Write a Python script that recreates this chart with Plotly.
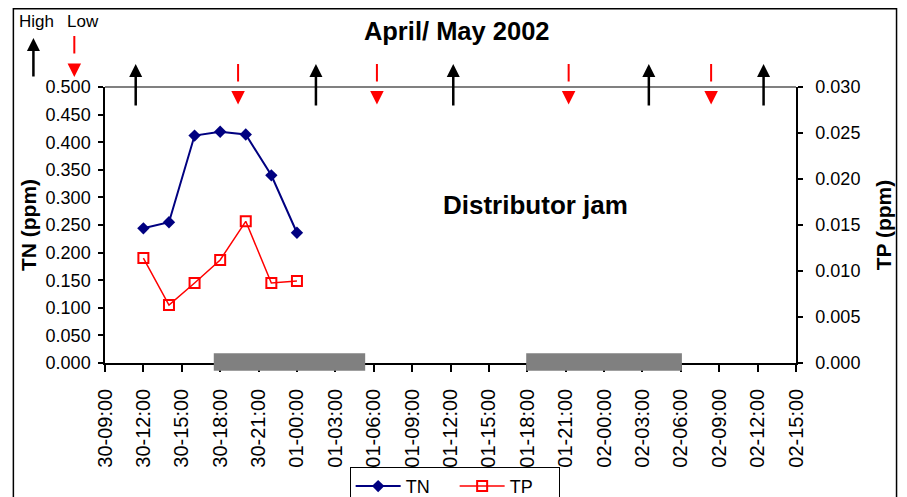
import plotly.graph_objects as go

# ---------------- data ----------------
sample_times = ["2002-04-30 12:00", "2002-04-30 14:00", "2002-04-30 16:00",
                "2002-04-30 18:00", "2002-04-30 20:00", "2002-04-30 22:00",
                "2002-05-01 00:00"]
tn_values = [0.244, 0.255, 0.412, 0.419, 0.414, 0.340, 0.236]
tp_values = [0.0114, 0.0063, 0.0087, 0.0112, 0.0154, 0.0087, 0.0089]

high_tide_times = ["2002-04-30 11:24", "2002-05-01 01:29", "2002-05-01 12:13",
                   "2002-05-02 03:30", "2002-05-02 12:28"]
low_tide_times = ["2002-04-30 19:24", "2002-05-01 06:15", "2002-05-01 21:14",
                  "2002-05-02 08:22"]

night_starts = ["2002-04-30 17:30", "2002-05-01 17:55"]
night_ends = ["2002-05-01 05:20", "2002-05-02 06:05"]

x_range = ["2002-04-30 09:00", "2002-05-02 15:00"]
tn_range = [0, 0.5]
tp_range = [0, 0.03]

title_text = "April/ May 2002"
note_text = "Distributor jam"

# ---------------- figure ----------------
FONT = "Liberation Sans, Arial, sans-serif"

fig = go.Figure()
fig.add_trace(go.Scatter(
    x=sample_times, y=tn_values, name="TN", mode="lines+markers",
    line=dict(color="#000080", width=2),
    marker=dict(symbol="diamond", size=9.5, color="#000080"),
    yaxis="y"))
fig.add_trace(go.Scatter(
    x=sample_times, y=tp_values, name="TP", mode="lines+markers",
    line=dict(color="#FF0000", width=1.5),
    marker=dict(symbol="square-open", size=10, color="#FF0000",
                line=dict(width=2, color="#FF0000")),
    yaxis="y2"))

shapes = []
# night bars straddling the x axis
for s, e in zip(night_starts, night_ends):
    shapes.append(dict(type="rect", xref="x", yref="paper", x0=s, x1=e,
                       y0=-0.028, y1=0.035, fillcolor="#808080",
                       line=dict(width=0), layer="above"))
# plot area top border
shapes.append(dict(type="line", xref="paper", yref="paper", x0=0, x1=1,
                   y0=1, y1=1, line=dict(color="#808080", width=2)))
# outer chart border
shapes.append(dict(type="rect", xref="paper", yref="paper", x0=-0.1326,
                   x1=1.1455, y0=-0.8, y1=1.2835,
                   line=dict(color="#000000", width=1.5)))

annotations = []
# high tide arrows (black, up)
for t in high_tide_times:
    annotations.append(dict(x=t, xref="x", y=1.0833, yref="paper", text="",
                            showarrow=True, ax=0, ay=43, arrowhead=2,
                            arrowwidth=2.5, arrowsize=1.04,
                            arrowcolor="#000000", standoff=0))
# low tide arrows (red, down, shaft separated from head)
for t in low_tide_times:
    annotations.append(dict(x=t, xref="x", y=1.0833, yref="paper", text="",
                            showarrow=True, ax=0, ay=19, arrowhead=0,
                            arrowwidth=2, arrowcolor="#FF0000", standoff=0))
    annotations.append(dict(x=t, xref="x", y=0.9366, yref="paper", text="",
                            showarrow=True, ax=0, ay=-13.5, arrowhead=2,
                            arrowwidth=2, arrowsize=1.35,
                            arrowcolor="#FF0000", standoff=0))

# High / Low key
annotations.append(dict(x=-0.0998, y=1.239, xref="paper", yref="paper",
                        text="High", showarrow=False,
                        font=dict(family=FONT, size=17, color="black"),
                        xanchor="center", yanchor="middle"))
annotations.append(dict(x=-0.0318, y=1.239, xref="paper", yref="paper",
                        text="Low", showarrow=False,
                        font=dict(family=FONT, size=17, color="black"),
                        xanchor="center", yanchor="middle"))
annotations.append(dict(x=-0.1036, y=1.1775, xref="paper", yref="paper",
                        text="", showarrow=True, ax=0, ay=40, arrowhead=2,
                        arrowwidth=2.5, arrowsize=1.04, arrowcolor="#000000",
                        standoff=0))
annotations.append(dict(x=-0.0444, y=1.1848, xref="paper", yref="paper",
                        text="", showarrow=True, ax=0, ay=19, arrowhead=0,
                        arrowwidth=2, arrowcolor="#FF0000", standoff=0))
annotations.append(dict(x=-0.0444, y=1.0362, xref="paper", yref="paper",
                        text="", showarrow=True, ax=0, ay=-13.5, arrowhead=2,
                        arrowwidth=2, arrowsize=1.35, arrowcolor="#FF0000",
                        standoff=0))
# note
annotations.append(dict(x=0.6233, y=0.5725, xref="paper", yref="paper",
                        text="<b>" + note_text + "</b>", showarrow=False,
                        font=dict(family=FONT, size=26, color="black"),
                        xanchor="center", yanchor="middle"))

fig.update_layout(
    width=907, height=520,
    margin=dict(l=97, r=118.5, t=79, b=165),
    paper_bgcolor="white", plot_bgcolor="white",
    font=dict(family=FONT, size=18, color="black"),
    title=dict(text="<b>" + title_text + "</b>", x=0.509, xref="paper",
               xanchor="center", y=1 - 23 / 520, yref="container",
               yanchor="middle", font=dict(family=FONT, size=25.5, color="black")),
    xaxis=dict(type="date", range=x_range, tick0=x_range[0],
               dtick=3 * 3600 * 1000, tickformat="%d-%H:%M", tickangle=-90,
               showgrid=False, zeroline=False, showline=True,
               linecolor="black", linewidth=1.5, ticks="outside", ticklen=7,
               tickwidth=1.5, tickcolor="black", ticklabelstandoff=9,
               tickfont=dict(family=FONT, size=20, color="black")),
    yaxis=dict(range=tn_range, dtick=0.05, tickformat=".3f",
               showgrid=False, zeroline=False, showline=True,
               linecolor="black", linewidth=1.5, ticks="outside", ticklen=5,
               tickwidth=1.5, tickcolor="black", ticklabelstandoff=4,
               tickfont=dict(family=FONT, size=18, color="black"),
               title=dict(text="<b>TN (ppm)</b>", standoff=3,
                          font=dict(family=FONT, size=21, color="black"))),
    yaxis2=dict(range=tp_range, dtick=0.005, tickformat=".3f",
                overlaying="y", side="right", anchor="x",
                showgrid=False, zeroline=False, showline=True,
                linecolor="black", linewidth=1.5, ticks="outside", ticklen=5,
                tickwidth=1.5, tickcolor="black", ticklabelstandoff=9,
                tickfont=dict(family=FONT, size=18, color="black"),
                title=dict(text="<b>TP (ppm)</b>", standoff=17,
                           font=dict(family=FONT, size=21, color="black"))),
    showlegend=True,
    legend=dict(orientation="h", x=0.506, y=-0.3765, xanchor="center",
                yanchor="top", bgcolor="white", bordercolor="black",
                borderwidth=1, itemwidth=45, entrywidth=44,
                font=dict(family=FONT, size=18, color="black")),
    shapes=shapes,
    annotations=annotations,
)

fig.write_html("out.html")
